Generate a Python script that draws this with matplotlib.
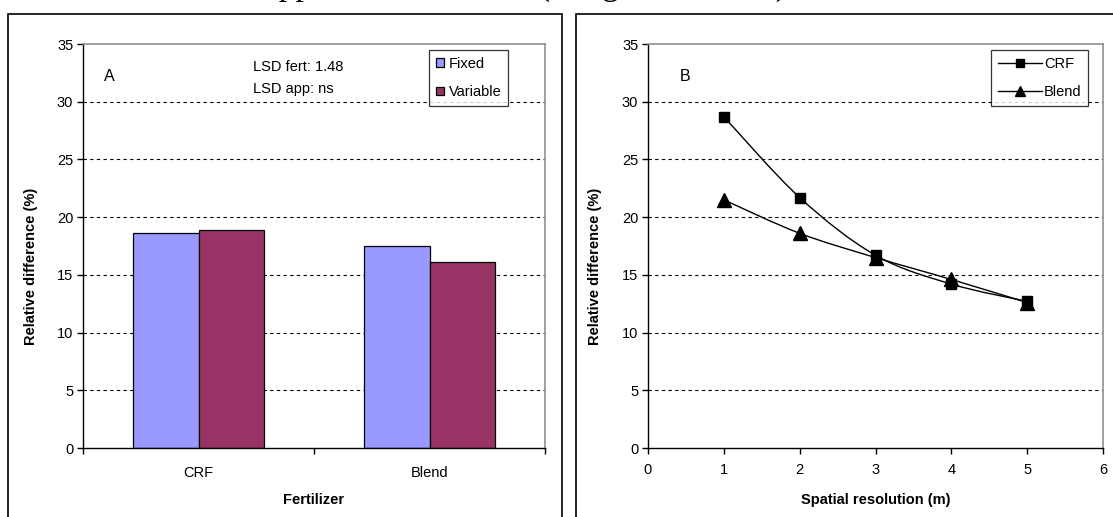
import numpy as np
import matplotlib
matplotlib.use('Agg')
import matplotlib.pyplot as plt
from matplotlib.patches import Rectangle
from matplotlib.path import Path
from matplotlib.patches import PathPatch
from matplotlib.lines import Line2D

plt.rcParams['font.family'] = ['Liberation Sans', 'DejaVu Sans']

# panel A data
fertilizers = ['CRF', 'Blend']
fixed_vals = [18.6, 17.5]
variable_vals = [18.9, 16.1]

# panel B data
resolution = [1, 2, 3, 4, 5]
crf_vals = [28.7, 21.7, 16.7, 14.2, 12.7]
blend_vals = [21.5, 18.6, 16.5, 14.6, 12.6]

W, H = 1113, 517
FS = 10.5
fig = plt.figure(figsize=(W / 100, H / 100), dpi=100)


def fx(px):
    return px / W


def fy(py):
    return 1 - py / H


# caption of the page above, mostly cut off at the top edge
fig.text(fx(265), fy(-5), 'application', family='Liberation Serif',
         fontsize=24, va='baseline', ha='left')
fig.text(fx(539), fy(-5), '(Yang et al., 2004)', family='Liberation Serif',
         fontsize=24, va='baseline', ha='left')

# panel frames
fig.patches.append(Rectangle((fx(8), fy(530)), fx(562) - fx(8), fy(14) - fy(530),
                             transform=fig.transFigure, fill=False, ec='black', lw=1.2))
fig.patches.append(Rectangle((fx(576), fy(530)), fx(1130) - fx(576), fy(14) - fy(530),
                             transform=fig.transFigure, fill=False, ec='black', lw=1.2))

top, bottom = 44, 448
axA = fig.add_axes([fx(83), fy(bottom), fx(545) - fx(83), fy(top) - fy(bottom)])
axB = fig.add_axes([fx(648), fy(bottom), fx(1103) - fx(648), fy(top) - fy(bottom)])


def style_axes(ax):
    ax.set_ylim(0, 35)
    ax.set_yticks(range(0, 36, 5))
    for y in range(5, 35, 5):
        ax.axhline(y, color='black', lw=0.8, ls=(0, (3, 3)), zorder=0)
    ax.spines['top'].set_color('#909090')
    ax.spines['right'].set_color('#909090')
    ax.spines['top'].set_linewidth(1.2)
    ax.spines['right'].set_linewidth(1.2)
    ax.spines['left'].set_linewidth(1.0)
    ax.spines['bottom'].set_linewidth(1.0)
    ax.tick_params(direction='out', length=4, width=1, labelsize=FS, pad=3)
    ax.set_ylabel('Relative difference (%)', fontsize=FS, fontweight='bold')


# ---- panel A: grouped bars
style_axes(axA)
axA.yaxis.set_label_coords(-0.097, 0.45)
x = np.arange(len(fertilizers)) + 0.5
bw = 0.285
axA.bar(x - bw / 2, fixed_vals, bw, color='#9999FF', edgecolor='black', lw=0.9,
        label='Fixed', zorder=2)
axA.bar(x + bw / 2, variable_vals, bw, color='#993366', edgecolor='black', lw=0.9,
        label='Variable', zorder=2)
axA.set_xlim(0, 2)
axA.set_xticks([0, 1, 2])
axA.set_xticklabels(['', '', ''])
axA.set_xticks(x, minor=True)
axA.set_xticklabels(fertilizers, minor=True, fontsize=FS)
axA.tick_params(axis='x', which='minor', length=0, pad=13)
axA.set_xlabel('Fertilizer', fontsize=FS, fontweight='bold', labelpad=9)
axA.text(0.046, 0.92, 'A', transform=axA.transAxes, fontsize=11.5, va='center')
axA.text(0.368, 0.943, 'LSD fert: 1.48', transform=axA.transAxes, fontsize=FS, va='center')
axA.text(0.368, 0.889, 'LSD app: ns', transform=axA.transAxes, fontsize=FS, va='center')
legA = axA.legend(loc='upper right', bbox_to_anchor=(0.920, 0.985), borderaxespad=0,
                  fontsize=FS, frameon=True, fancybox=False, edgecolor='black',
                  handlelength=0.55, handleheight=0.55, handletextpad=0.35,
                  labelspacing=1.0, borderpad=0.45)
legA.get_frame().set_linewidth(0.9)

# ---- panel B: smoothed lines with markers


def smooth_path(xs, ys):
    pts = np.column_stack([xs, ys]).astype(float)
    verts = [pts[0]]
    codes = [Path.MOVETO]
    n = len(pts)
    for i in range(n - 1):
        p0 = pts[i - 1] if i > 0 else pts[i]
        p1, p2 = pts[i], pts[i + 1]
        p3 = pts[i + 2] if i + 2 < n else pts[i + 1]
        c1 = p1 + (p2 - p0) / 6
        c2 = p2 - (p3 - p1) / 6
        verts += [c1, c2, p2]
        codes += [Path.CURVE4] * 3
    return Path(verts, codes)


style_axes(axB)
axB.yaxis.set_label_coords(-0.101, 0.45)
axB.set_xlim(0, 6)
axB.set_xticks(range(0, 7))
axB.tick_params(axis='x', pad=7)
axB.set_xlabel('Spatial resolution (m)', fontsize=FS, fontweight='bold', labelpad=11)
for vals in (crf_vals, blend_vals):
    axB.add_patch(PathPatch(smooth_path(resolution, vals), fill=False,
                            ec='black', lw=1.0, zorder=3))
axB.plot(resolution, crf_vals, ls='none', marker='s', ms=7.5, color='black', zorder=4)
axB.plot(resolution, blend_vals, ls='none', marker='^', ms=10.5, color='black', zorder=4)
axB.text(0.07, 0.92, 'B', transform=axB.transAxes, fontsize=11.5, va='center')
handles = [Line2D([], [], color='black', lw=1.0, marker='s', ms=6),
           Line2D([], [], color='black', lw=1.0, marker='^', ms=7)]
legB = axB.legend(handles, ['CRF', 'Blend'], loc='upper right',
                  bbox_to_anchor=(0.967, 0.985), borderaxespad=0, fontsize=FS,
                  frameon=True, fancybox=False, edgecolor='black',
                  handlelength=3.0, handletextpad=0.15, labelspacing=1.0,
                  borderpad=0.45)
legB.get_frame().set_linewidth(0.9)

fig.savefig('out.png', dpi=100)
